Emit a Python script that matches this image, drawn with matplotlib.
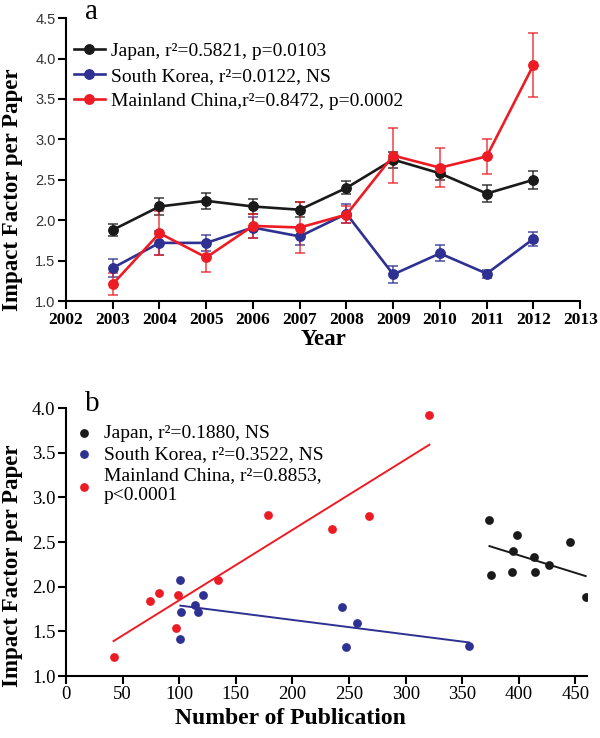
import numpy as np
import matplotlib
matplotlib.use("Agg")
import matplotlib.pyplot as plt

# ---- data ----
years = [2003, 2004, 2005, 2006, 2007, 2008, 2009, 2010, 2011, 2012]

japan_if = [1.88, 2.17, 2.24, 2.17, 2.13, 2.40, 2.75, 2.58, 2.33, 2.50]
japan_err = [0.07, 0.10, 0.10, 0.09, 0.09, 0.08, 0.10, 0.08, 0.10, 0.11]
korea_if = [1.41, 1.72, 1.72, 1.91, 1.80, 2.08, 1.33, 1.59, 1.34, 1.77]
korea_err = [0.11, 0.15, 0.10, 0.13, 0.11, 0.12, 0.10, 0.10, 0.05, 0.09]
china_if = [1.21, 1.84, 1.54, 1.93, 1.91, 2.07, 2.80, 2.65, 2.79, 3.92]
china_err = [0.14, 0.27, 0.18, 0.15, 0.31, 0.10, 0.34, 0.24, 0.22, 0.40]

# number of publications per year (same year order)
japan_pub = [459, 394, 427, 414, 375, 395, 374, 398, 413, 445]
korea_pub = [101, 117, 102, 121, 114, 101, 247, 257, 356, 244]
china_pub = [42, 74, 97, 82, 99, 134, 178, 235, 268, 321]

labels_a = ["Japan, r\u00b2=0.5821, p=0.0103",
            "South Korea, r\u00b2=0.0122, NS",
            "Mainland China,r\u00b2=0.8472, p=0.0002"]
labels_b = ["Japan, r\u00b2=0.1880, NS",
            "South Korea, r\u00b2=0.3522, NS",
            "Mainland China, r\u00b2=0.8853,\np<0.0001"]

c_black = "#1a1a1a"
c_blue = "#2e3192"
c_red = "#ed1c24"
SERIF = "Liberation Serif"
SANS = "Liberation Sans"

plt.rcParams["font.family"] = SERIF

W, H = 600.0, 738.0
fig = plt.figure(figsize=(W / 100, H / 100), dpi=100)

# ---------------- panel a ----------------
ax1 = fig.add_axes([0.11, 0.592, 0.857, 0.3835])
series_a = [(japan_if, japan_err, c_black), (korea_if, korea_err, c_blue),
            (china_if, china_err, c_red)]
handles = []
for vals, errs, col in series_a:
    ax1.errorbar(years, vals, yerr=errs, fmt="none", ecolor=col, elinewidth=1.1,
                 capsize=3.5, capthick=1.1, alpha=0.85, zorder=2)
    h, = ax1.plot(years, vals, "-o", color=col, lw=1.9, ms=6.8, zorder=3)
    handles.append(h)

ax1.set_xlim(2002, 2013)
ax1.set_ylim(1.0, 4.5)
ax1.set_xticks(range(2002, 2014))
ax1.set_yticks(np.arange(1.0, 4.51, 0.5))
ax1.set_yticklabels(["%.1f" % v for v in np.arange(1.0, 4.51, 0.5)],
                    family=SANS, fontsize=10.5, color="#333333")
for t in ax1.get_xticklabels():
    t.set_fontweight("bold")
    t.set_fontsize(12.5)
ax1.set_xlabel("Year", fontsize=16.5, fontweight="bold", va="top")
ax1.xaxis.set_label_coords(0.5, -0.1)
ax1.legend(handles, labels_a, loc="upper left", bbox_to_anchor=(0.015, 0.915),
           frameon=False, fontsize=14, handlelength=1.6, handletextpad=0.3,
           labelspacing=0.38, borderaxespad=0, borderpad=0)

# ---------------- panel b ----------------
ax2 = fig.add_axes([0.11, 0.084, 0.868, 0.363])
series_b = [(japan_pub, japan_if, c_black), (korea_pub, korea_if, c_blue),
            (china_pub, china_if, c_red)]
for xs, ys, col in series_b:
    ax2.scatter(xs, ys, s=40, color=col, zorder=3, linewidths=0)
for xs, ys, col in series_b:
    k, b0 = np.polyfit(xs, ys, 1)
    xl = np.array([min(xs), max(xs)])
    ax2.plot(xl, k * xl + b0, color=col, lw=1.4, zorder=2)

ax2.set_xlim(0, 460)
ax2.set_ylim(1.0, 4.0)
ax2.set_xticks(range(0, 451, 50))
ax2.set_yticks(np.arange(1.0, 4.01, 0.5))
ax2.tick_params(labelsize=13.5)
ax2.set_xlabel("Number of Publication", fontsize=17, fontweight="bold")
ax2.xaxis.set_label_coords(0.43, -0.12)
ax2.legend(labels_b, loc="upper left", bbox_to_anchor=(0.02, 0.94),
           frameon=False, fontsize=14, handlelength=0.8, handletextpad=0.6,
           labelspacing=0.2, borderaxespad=0, borderpad=0, scatterpoints=1)

for ax in (ax1, ax2):
    ax.spines["top"].set_visible(False)
    ax.spines["right"].set_visible(False)
    ax.spines["left"].set_linewidth(1.5)
    ax.spines["bottom"].set_linewidth(1.5)
    ax.tick_params(direction="out", length=5.5, width=1.5, pad=2)

# y labels placed in figure pixels (centred a little below each axis centre)
fig.text(13 / W, 1 - 190 / H, "Impact Factor per Paper", rotation=90,
         fontsize=16.5, fontweight="bold", ha="center", va="center")
fig.text(13 / W, 1 - 566 / H, "Impact Factor per Paper", rotation=90,
         fontsize=16.5, fontweight="bold", ha="center", va="center")

fig.text(92 / W, 1 - 12 / H, "a", fontsize=21, ha="center", va="center")
fig.text(92 / W, 1 - 404 / H, "b", fontsize=21, ha="center", va="center")

fig.savefig("out.png", dpi=100)
